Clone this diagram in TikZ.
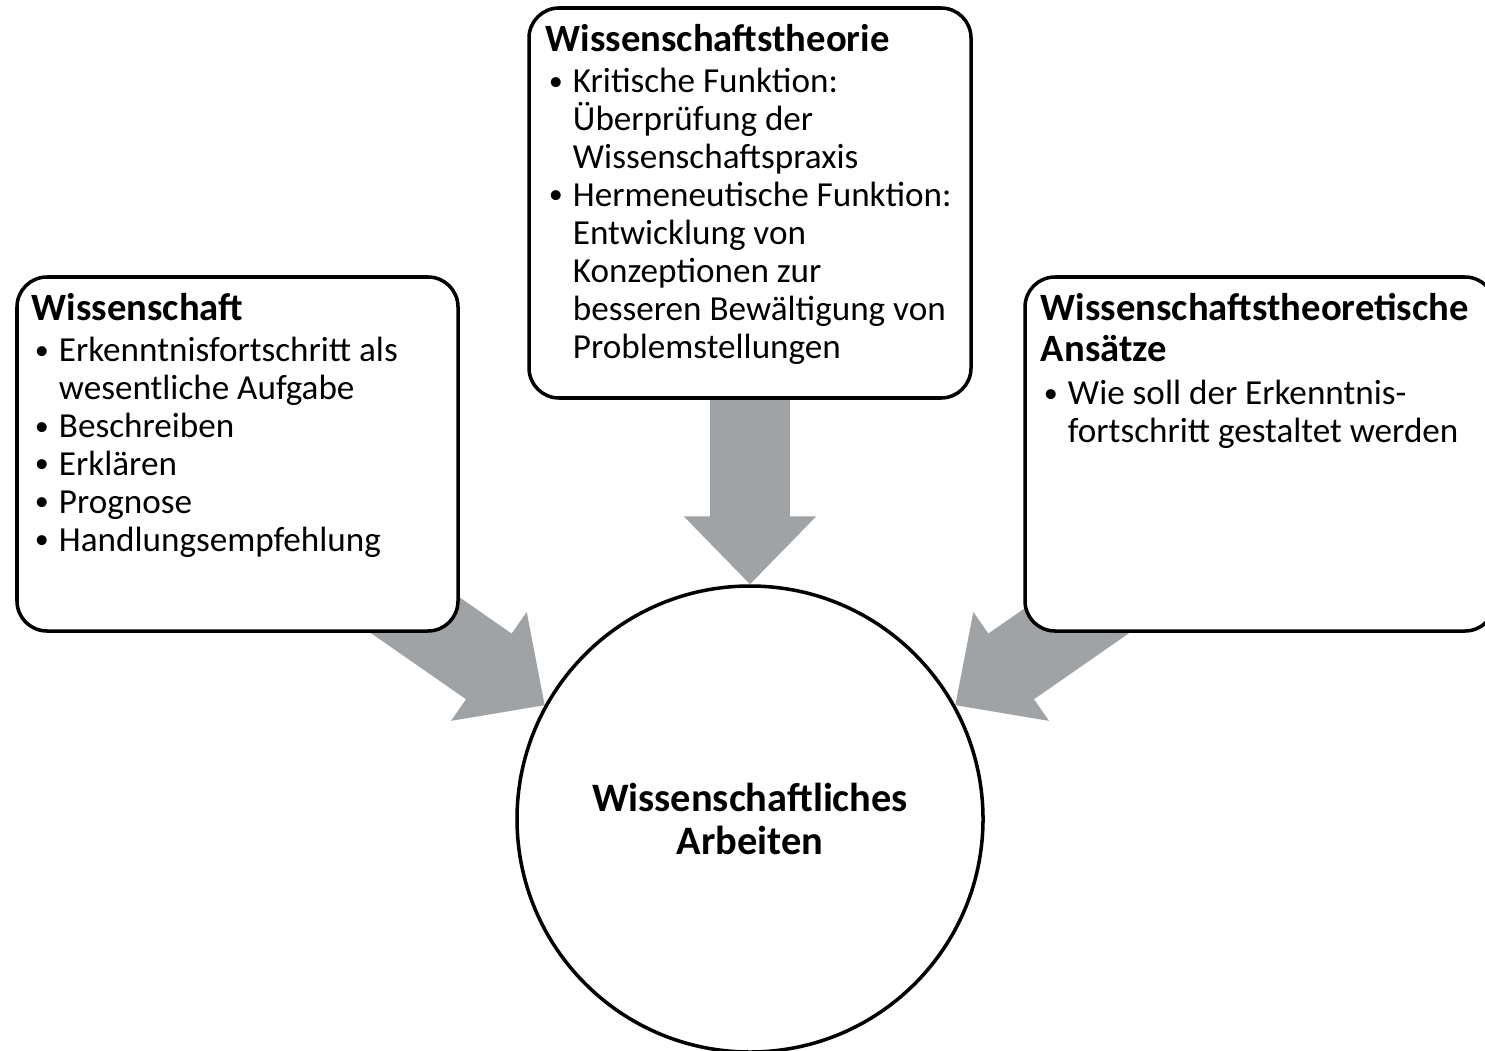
\documentclass[tikz,border=0pt]{standalone}
\usepackage{fontspec}
\setmainfont{Carlito}
\usetikzlibrary{arrows.meta,backgrounds,calc}

\definecolor{pfeilgrau}{RGB}{160,163,166}
\newcommand{\pkt}{\makebox[0.27cm][l]{\hspace{0.03cm}\raisebox{0.7pt}{\fontsize{8}{8}\selectfont\textbullet}}}
\newcommand{\einr}{\hspace*{0.27cm}}
\newcommand{\titel}[1]{{\fontsize{11}{11}\selectfont\bfseries #1}}

\begin{document}
\begin{tikzpicture}[
  kasten/.style={draw, line width=1pt, rounded corners=0.3cm, fill=white, inner sep=0pt},
  inhalt/.style={anchor=north west, align=left, inner sep=0pt, font=\fontsize{10}{10.8}\selectfont},
  pfeil/.style={pfeilgrau, line width=0.8cm, -{Triangle[width=1.32cm,length=0.68cm,line width=1pt]}}
]
  \useasboundingbox (0,0) rectangle (14.85,10.5);

  \node[kasten, minimum width=4.41cm, minimum height=3.54cm] (wiss) at (2.375,5.96) {};
  \node[kasten, minimum width=4.42cm, minimum height=3.90cm] (theorie) at (7.5,8.47) {};
  \node[kasten, minimum width=4.70cm, minimum height=3.54cm] (ansaetze) at (12.6,5.96) {};
  \node[circle, draw, line width=1pt, fill=white, minimum size=4.66cm, align=center,
        font=\fontsize{11.5}{12}\selectfont\bfseries] (arbeit) at (7.5,2.31)
        {Wissenschaftliches\\Arbeiten};

  \node[inhalt] (wisstxt) at ([shift={(0.16,-0.17)}]wiss.north west)
    {\titel{Wissenschaft}\\[1pt]
     \pkt Erkenntnisfortschritt als\\
     \einr wesentliche Aufgabe\\
     \pkt Beschreiben\\
     \pkt Erklären\\
     \pkt Prognose\\
     \pkt Handlungsempfehlung};

  \node[inhalt] (theorietxt) at ([shift={(0.18,-0.17)}]theorie.north west)
    {\titel{Wissenschaftstheorie}\\[1pt]
     \pkt Kritische Funktion:\\
     \einr Überprüfung der\\
     \einr Wissenschaftspraxis\\
     \pkt Hermeneutische Funktion:\\
     \einr Entwicklung von\\
     \einr Konzeptionen zur\\
     \einr besseren Bewältigung von\\
     \einr Problemstellungen};

  \node[inhalt] (ansaetzetxt) at ([shift={(0.17,-0.17)}]ansaetze.north west)
    {\titel{Wissenschaftstheoretische}\\[1pt]
     \titel{Ansätze}\\[1.5pt]
     \pkt Wie soll der Erkenntnis-\\
     \einr fortschritt gestaltet werden};

  \begin{scope}[on background layer]
    \draw[pfeil] (theorie.center) -- (arbeit.north);
    \draw[pfeil] ($(arbeit.151)+(145.2:3)$) -- (arbeit.151);
    \draw[pfeil] ($(arbeit.29)+(34.8:3)$) -- (arbeit.29);
  \end{scope}
\end{tikzpicture}
\end{document}
